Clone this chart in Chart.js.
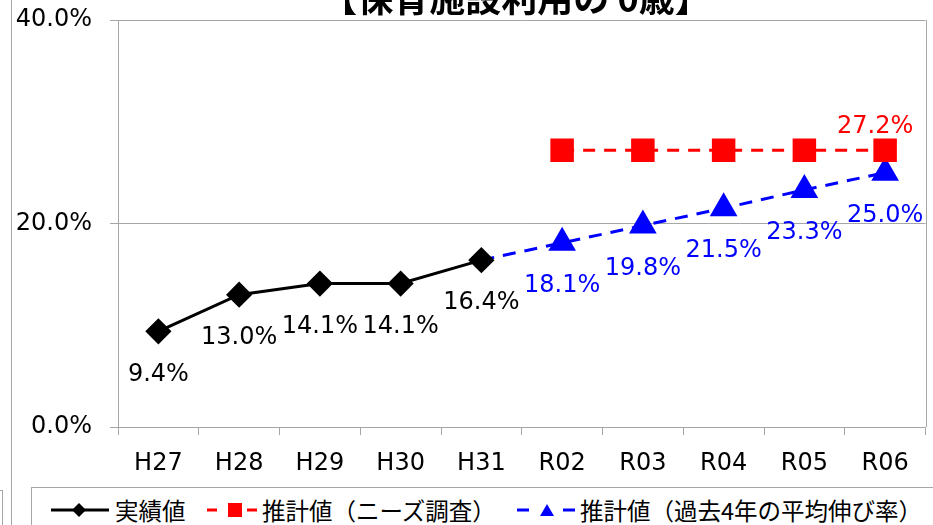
<!DOCTYPE html>
<html lang="ja">
<head>
    <meta charset="UTF-8" />
    <title>保育施設利用の 0歳</title>
    <script src="https://cdn.jsdelivr.net/npm/chart.js"></script>
    <style>
        html, body { margin: 0; padding: 0; background: #fff; overflow: hidden; }
        body { width: 933px; height: 525px; position: relative; font-family: 'Noto Sans CJK JP', sans-serif; }
        #wrap { position: absolute; left: 0; top: 0; width: 933px; height: 485px; overflow: hidden; }
        #titulo { position: absolute; left: 216px; top: -22px; width: 600px; text-align: center;
                  font-size: 36px; line-height: 36px; font-weight: bold; color: #000; white-space: nowrap; }
        .marco { position: absolute; border: 1px solid #a6a6a6; }
        #leyenda { position: absolute; left: 31px; top: 487px; width: 920px; height: 50px; border: 1px solid #a6a6a6; }
        .item { position: absolute; top: 488px; height: 44px; display: flex; align-items: center;
                font-size: 23.5px; color: #000; white-space: nowrap; }
    </style>
</head>
<body>

<!-- restos de la hoja -->
<div class="marco" style="left:11px; top:-2px; width:0; height:530px; border-width:0 0 0 1px;"></div>
<div class="marco" style="left:-10px; top:490px; width:12px; height:40px; border-width:1px 1px 0 0;"></div>

<div id="wrap"><canvas id="grafico" width="943" height="485"></canvas></div>
<div id="titulo">【保育施設利用の 0歳】</div>

<!-- Leyenda -->
<div id="leyenda"></div>
<div class="item" style="left:51px;">
    <svg width="58" height="16"><line x1="0" y1="8" x2="58" y2="8" stroke="#000" stroke-width="3"/>
        <polygon points="28,1 35,8 28,15 21,8" fill="#000"/></svg>
</div>
<div class="item" style="left:115px;" id="ley1"></div>
<div class="item" style="left:207px;">
    <svg width="50" height="16"><line x1="0" y1="8" x2="10" y2="8" stroke="#f00" stroke-width="3"/>
        <rect x="21" y="1" width="14" height="14" fill="#f00"/>
        <line x1="40" y1="8" x2="50" y2="8" stroke="#f00" stroke-width="3"/></svg>
</div>
<div class="item" style="left:262px;" id="ley2"></div>
<div class="item" style="left:517px;">
    <svg width="58" height="16"><line x1="0" y1="8" x2="12" y2="8" stroke="#00f" stroke-width="3"/>
        <polygon points="30,2 37,14 23,14" fill="#00f"/>
        <line x1="46" y1="8" x2="58" y2="8" stroke="#00f" stroke-width="3"/></svg>
</div>
<div class="item" style="left:580px;" id="ley3"></div>

<script>
    // === Datos ===
    const categorias = ["H27", "H28", "H29", "H30", "H31", "R02", "R03", "R04", "R05", "R06"];
    const nombresSeries = ["実績値", "推計値（ニーズ調査）", "推計値（過去4年の平均伸び率）"];
    const actual = [9.4, 13.0, 14.1, 14.1, 16.4, null, null, null, null, null];
    const encuesta = [null, null, null, null, null, 27.2, 27.2, 27.2, 27.2, 27.2];
    const tendencia = [null, null, null, null, 16.4, 18.1, 19.8, 21.5, 23.3, 25.0];
    // qué puntos llevan etiqueta
    const etiquetasActual = [true, true, true, true, true, false, false, false, false, false];
    const etiquetasEncuesta = [false, false, false, false, false, false, false, false, false, true];
    const etiquetasTendencia = [false, false, false, false, false, true, true, true, true, true];
    const ticksY = [0, 20, 40];

    document.getElementById("ley1").textContent = nombresSeries[0];
    document.getElementById("ley2").textContent = nombresSeries[1];
    document.getElementById("ley3").textContent = nombresSeries[2];

    const gris = "#a6a6a6";
    const fuente = "DejaVu Sans";

    // etiquetas de datos y borde derecho
    const pluginEtiquetas = {
        id: "etiquetas",
        afterDatasetsDraw(chart) {
            const ctx = chart.ctx;
            ctx.save();
            ctx.font = "24px '" + fuente + "'";
            ctx.textAlign = "center";
            ctx.textBaseline = "middle";
            chart.data.datasets.forEach((ds, i) => {
                const meta = chart.getDatasetMeta(i);
                meta.data.forEach((p, j) => {
                    if (!ds.mostrar[j] || ds.data[j] == null) return;
                    ctx.fillStyle = ds.colorEtiqueta;
                    ctx.fillText(ds.data[j].toFixed(1) + "%", p.x + ds.dx, p.y + ds.dy);
                });
            });
            ctx.restore();
        },
        beforeDatasetsDraw(chart) {
            const a = chart.chartArea;
            const ctx = chart.ctx;
            ctx.save();
            ctx.strokeStyle = gris;
            ctx.lineWidth = 1;
            ctx.beginPath();
            ctx.moveTo(Math.round(a.right) + 0.5, a.top);
            ctx.lineTo(Math.round(a.right) + 0.5, a.bottom);
            ctx.stroke();
            ctx.restore();
        }
    };

    new Chart(document.getElementById("grafico"), {
        type: "line",
        data: {
            labels: categorias,
            datasets: [
                {
                    label: nombresSeries[0],
                    data: actual,
                    borderColor: "#000",
                    backgroundColor: "#000",
                    borderWidth: 3,
                    pointStyle: "rectRot",
                    pointRadius: 11,
                    mostrar: etiquetasActual,
                    colorEtiqueta: "#000",
                    dx: 0, dy: 43
                },
                {
                    label: nombresSeries[1],
                    data: encuesta,
                    borderColor: "#f00",
                    backgroundColor: "#f00",
                    borderWidth: 3,
                    borderDash: [12, 9],
                    pointStyle: "rect",
                    pointRadius: 14.5,
                    mostrar: etiquetasEncuesta,
                    colorEtiqueta: "#f00",
                    dx: -10, dy: -23
                },
                {
                    label: nombresSeries[2],
                    data: tendencia,
                    borderColor: "#00f",
                    backgroundColor: "#00f",
                    borderWidth: 3,
                    borderDash: [13, 9],
                    pointStyle: "triangle",
                    pointRadius: [0, 0, 0, 0, 0, 13, 13, 13, 13, 13],
                    mostrar: etiquetasTendencia,
                    colorEtiqueta: "#00f",
                    dx: 0, dy: 43
                }
            ]
        },
        options: {
            responsive: false,
            animation: false,
            spanGaps: false,
            layout: { padding: { left: 0, top: 20, right: 0, bottom: 0 } },
            plugins: { legend: { display: false }, tooltip: { enabled: false } },
            elements: { line: { tension: 0 }, point: { hoverRadius: 0 } },
            scales: {
                x: {
                    offset: true,
                    grid: { offset: true, drawOnChartArea: false, drawTicks: true, tickLength: 8, color: gris },
                    border: { display: true, color: gris },
                    ticks: { color: "#000", font: { family: fuente, size: 24 }, padding: 14, maxRotation: 0 },
                    afterFit: s => { s.height = 58; s.paddingLeft = 0; s.paddingRight = 0; }
                },
                y: {
                    min: 0,
                    max: 40,
                    afterBuildTicks: s => { s.ticks = ticksY.map(v => ({ value: v })); },
                    grid: { color: gris, tickLength: 8, drawTicks: true },
                    border: { display: true, color: gris },
                    ticks: {
                        color: "#000",
                        font: { family: fuente, size: 24 },
                        padding: 18,
                        callback: v => v.toFixed(1) + "%"
                    },
                    afterFit: s => { s.width = 118; s.paddingTop = 0; s.paddingBottom = 0; }
                }
            }
        },
        plugins: [pluginEtiquetas]
    });
</script>
</body>
</html>
